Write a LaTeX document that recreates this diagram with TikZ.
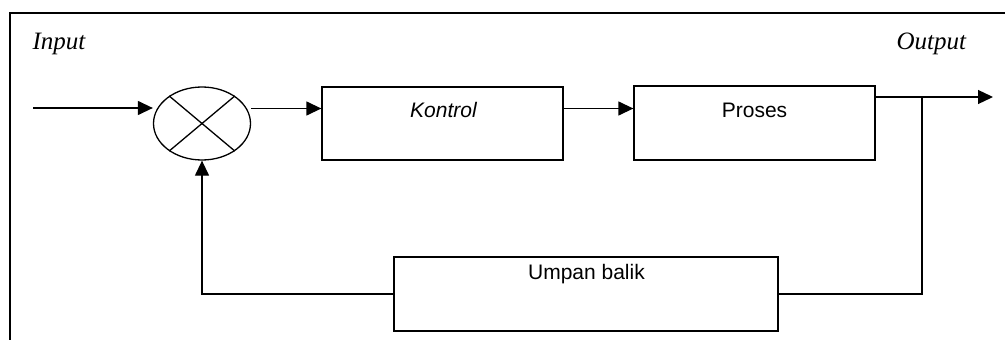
\documentclass[tikz,border=0pt]{standalone}
\usepackage{fontspec}
\setmainfont{Liberation Serif}
\setsansfont{Liberation Sans}
\usetikzlibrary{shapes.geometric,arrows.meta}
\begin{document}
\begin{tikzpicture}[x=1pt,y=-1pt,
  line width=1.3pt,
  box/.style={draw,rectangle,inner sep=0pt,line width=1.3pt},
  sumnode/.style={draw,ellipse,inner sep=0pt,minimum width=97pt,minimum height=73pt,line width=1.3pt},
  arr/.style={-{Triangle[length=15pt,width=14pt]}},
  iolbl/.style={font=\fontsize{25}{30}\selectfont\rmfamily\itshape,inner sep=0pt,anchor=base west},
  boxlbl/.style={font=\fontsize{21}{25}\selectfont\sffamily,inner sep=0pt,anchor=base}]
\useasboundingbox (0,0) rectangle (1005,340);
% frame
\draw[line width=1.5pt] (10,340) -- (10,13) -- (1005,13);
% labels
\node[iolbl] (inlbl) at (32,49) {Input};
\node[iolbl] (outlbl) at (896,49) {Output};
% blocks
\node[sumnode] (sum) at (202,123.5) {};
\draw (sum.140) -- (sum.-40);
\draw (sum.40) -- (sum.-140);
\node[box,minimum width=241pt,minimum height=73pt] (kontrol) at (442.5,123.5) {};
\node[boxlbl] (kontroltxt) at (443.5,117) {\itshape Kontrol};
\node[box,minimum width=241pt,minimum height=74pt] (proses) at (754.5,123) {};
\node[boxlbl] (prosestxt) at (754.5,117) {Proses};
\node[box,minimum width=384pt,minimum height=74pt] (umpan) at (586,294) {};
\node[boxlbl] (umpantxt) at (586.5,279) {Umpan balik};
% connectors
\coordinate (in) at (33,108);
\coordinate (row) at (0,108.5);
\coordinate (orow) at (0,97);
\coordinate (branch) at (922,97);
\coordinate (out) at (993,97);
\draw[arr] (in) -- (in -| sum.west);
\draw[arr] (sum.east |- row) -- (kontrol.west |- row);
\draw[arr] (kontrol.east |- row) -- (proses.west |- row);
\draw[arr] (proses.east |- orow) -- (out);
\draw (branch) |- (umpan.east);
\draw[arr] (umpan.west) -| (sum.south);
\end{tikzpicture}
\end{document}
